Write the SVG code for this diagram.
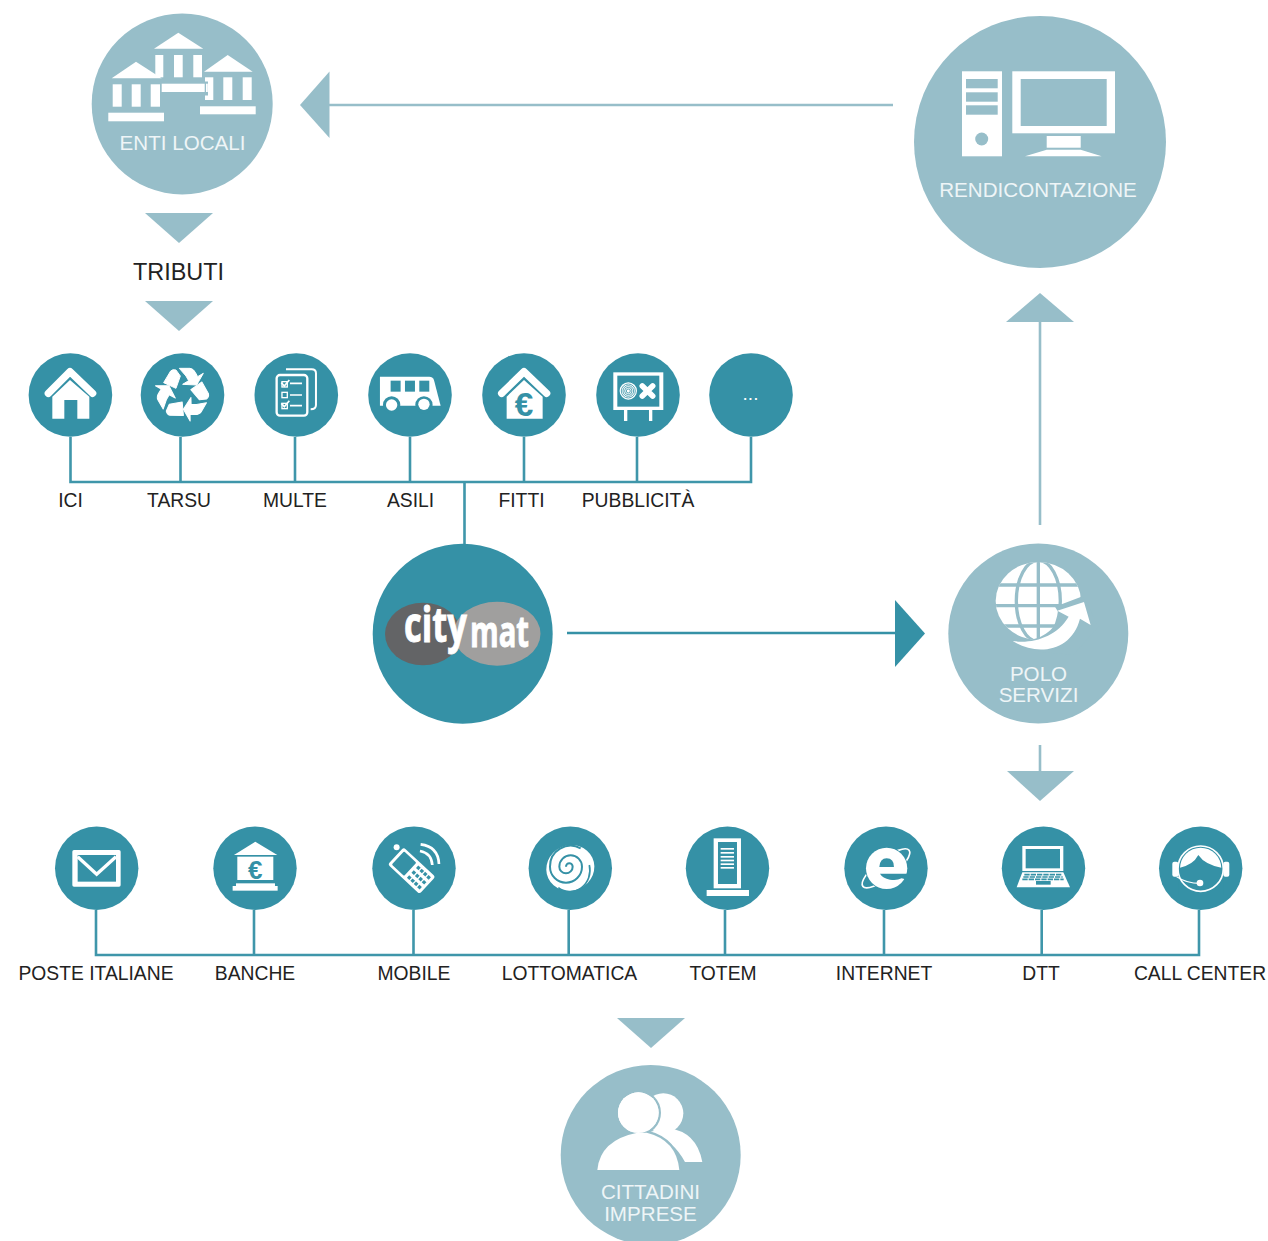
<svg xmlns="http://www.w3.org/2000/svg" width="1268" height="1241" viewBox="0 0 1268 1241">
<style>
.d{fill:#3591a6}.l{fill:#97bec9}.w{fill:#fff}
.cd{stroke:#3f96aa;stroke-width:2.6;fill:none}
.cl{stroke:#97bec9;stroke-width:2.6;fill:none}
.cm{stroke:#3591a6;stroke-width:2.6;fill:none}
text{font-family:"Liberation Sans",Arial,sans-serif}
.lb{font-size:19.3px;fill:#222;text-anchor:middle}
.in{font-size:20.6px;fill:#eef5f7;text-anchor:middle}
.sw{fill:none;stroke:#fff}
.sd{fill:none;stroke:#3591a6}
.logo{font-family:"Open Sans",sans-serif;font-weight:700;fill:#fff;stroke:#fff;stroke-width:.9}
</style>
<g id="connectors">
<path class="cd" d="M70.5 437V482H751V437M180.5 437V482M295 437V482M410 437V482M524 437V482M637 437V482M464.5 482V545"/>
<path class="cd" d="M96 910V955H1199V910M254 910V955M413.5 910V955M568.7 910V955M725 910V955M884 910V955M1041.7 910V955"/>
<path class="cl" d="M329 105H893M1040 322V525M1040 745V772"/>
<path class="cm" d="M567 633H896"/>
<polygon class="l" points="300,105 329.5,71.5 329.5,138"/>
<polygon class="l" points="145,213 213,213 179,243"/>
<polygon class="l" points="145,301 213,301 179,331"/>
<polygon class="l" points="1040,293 1006,322 1074,322"/>
<polygon class="d" points="895,600 895,667 925,633.5"/>
<polygon class="l" points="1007,771 1074,771 1040,801"/>
<polygon class="l" points="617,1018 685,1018 651,1048"/>
</g>
<g id="enti-locali">
<circle class="l" cx="182.2" cy="104" r="90.5"/>
<g class="w">
<polygon points="154,48.7 203.3,48.7 178.3,32.7"/>
<rect x="155.3" y="55" width="8" height="22.3"/><rect x="174" y="55" width="8.7" height="22.3"/><rect x="193.3" y="55" width="8.7" height="22.3"/>
<polygon points="111.7,78.3 161.7,78.3 136,61.7"/>
<rect x="112.7" y="84.3" width="9" height="22.4"/><rect x="131.7" y="84.3" width="9" height="22.4"/><rect x="150.7" y="84.3" width="9.3" height="22.4"/>
<rect x="108.3" y="112.7" width="55.7" height="8.6"/>
<polygon points="204,71.7 252.7,71.7 227.7,55"/>
<rect x="205" y="77.3" width="8.3" height="22.7"/><rect x="223.3" y="77.3" width="9" height="22.7"/><rect x="242.7" y="77.3" width="9" height="22.7"/>
<rect x="200" y="106.3" width="55.7" height="8"/>
</g>
<rect class="l" x="204" y="81.5" width="4" height="14"/>
<rect class="w" x="161.7" y="83.7" width="43" height="8.3"/>
<rect class="w" x="206" y="83.7" width="1.8" height="8.3"/>
<text class="in" x="182.5" y="150">ENTI LOCALI</text>
</g>
<text id="tributi" x="178.5" y="280" font-size="23.4" fill="#222" text-anchor="middle">TRIBUTI</text>
<g id="rendicontazione">
<circle class="l" cx="1040" cy="142" r="126"/>
<rect class="w" x="962" y="71.3" width="40" height="85"/>
<g class="l"><rect x="966" y="79" width="31.7" height="9.3"/><rect x="966" y="92.3" width="31.7" height="9.4"/><rect x="966" y="105.3" width="31.7" height="9.4"/><circle cx="981.7" cy="139" r="6.5"/></g>
<rect class="w" x="1012.3" y="71.3" width="102.7" height="62"/>
<rect class="l" x="1020.7" y="79" width="86" height="47"/>
<rect class="w" x="1046.7" y="136" width="34" height="11.7"/>
<polygon class="w" points="1046.7,149.7 1080.7,149.7 1101.7,156.3 1025,156.3"/>
<text class="in" x="1038" y="197">RENDICONTAZIONE</text>
</g>
<g id="ici">
<circle class="d" cx="70.4" cy="395" r="41.8"/>
<g transform="translate(0,340) scale(.3333)">
<polyline class="sw" points="145,160 210,95 278,160" stroke-width="22" stroke-linecap="round" stroke-linejoin="round"/>
<polygon class="w" points="157,170 210,120 268,170 268,236 232,236 232,180 193,180 193,236 157,236"/>
</g>
<text class="lb" x="70.5" y="507">ICI</text>
</g>
<g id="tarsu">
<circle class="d" cx="182.5" cy="395" r="41.8"/>
<g transform="translate(0,340) scale(.3333)">
<defs><g id="rc" stroke="#fff" stroke-width="3" stroke-linejoin="round">
<path d="M491 128L512 93Q518 87 528 90L541 108L528 145Z"/>
<path d="M538 85H570Q580 86 586 97L593 110L610 100L590 135L548 133L566 122L558 108Z"/>
</g></defs>
<use href="#rc" class="w"/>
<use href="#rc" class="w" transform="rotate(120 549 160)"/>
<use href="#rc" class="w" transform="rotate(240 549 160)"/>
</g>
<text class="lb" x="179" y="507">TARSU</text>
</g>
<g id="multe">
<circle class="d" cx="296.3" cy="395" r="41.8"/>
<g transform="translate(0,340) scale(.3333)">
<path class="sw" stroke-width="6" d="M858 88H935Q948 88 948 100V195Q948 208 932 208"/>
<rect class="sw" stroke-width="7" x="830" y="105" width="92" height="122" rx="10"/>
<g class="sw" stroke-width="4"><rect x="846" y="125" width="16" height="16"/><rect x="846" y="157" width="16" height="16"/><rect x="846" y="190" width="16" height="16"/></g>
<path class="sw" stroke-width="5" d="M870 130H906M870 165H906M870 197H906M844 128L853 138L868 120M844 190L853 200L868 182"/>
</g>
<text class="lb" x="295" y="507">MULTE</text>
</g>
<g id="asili">
<circle class="d" cx="410" cy="395" r="41.8"/>
<g transform="translate(0,340) scale(.3333)">
<path class="w" d="M1140 110H1288Q1298 110 1302 120L1322 197H1140Z"/>
<g class="d"><rect x="1172" y="122" width="30" height="33"/><rect x="1215" y="122" width="30" height="33"/><rect x="1258" y="122" width="30" height="33"/><circle cx="1175" cy="195" r="26"/><circle cx="1272" cy="195" r="26"/></g>
<circle class="w" cx="1175" cy="195" r="17"/><circle class="w" cx="1272" cy="193" r="17"/>
</g>
<text class="lb" x="410.5" y="507">ASILI</text>
</g>
<g id="fitti">
<circle class="d" cx="524" cy="395" r="41.8"/>
<g transform="translate(400,340) scale(.3333)">
<polyline class="sw" points="305,160 372,95 440,160" stroke-width="22" stroke-linecap="round" stroke-linejoin="round"/>
<polygon class="w" points="320,170 372,120 428,170 428,236 320,236"/>
<text x="372" y="227" font-size="100" font-weight="bold" text-anchor="middle" class="d">€</text>
</g>
<text class="lb" x="521.5" y="507">FITTI</text>
</g>
<g id="pubblicita">
<circle class="d" cx="638" cy="395" r="41.8"/>
<g transform="translate(400,340) scale(.3333)">
<rect class="w" x="640" y="97" width="150" height="113"/>
<rect class="d" x="652" y="107" width="126" height="93"/>
<rect class="w" x="672" y="210" width="10" height="33"/><rect class="w" x="747" y="210" width="10" height="33"/>
<circle class="w" cx="685" cy="153" r="26"/>
<g class="sd" stroke-width="2.4"><circle cx="685" cy="153" r="21"/><circle cx="685" cy="153" r="16"/><circle cx="685" cy="153" r="11"/><circle cx="685" cy="153" r="6"/></g>
<path class="sw" stroke-width="17" stroke-linecap="round" d="M727 138L758 168M758 138L727 168"/>
</g>
<text class="lb" x="638" y="507">PUBBLICITÀ</text>
</g>
<g id="altri">
<circle class="d" cx="751" cy="395" r="41.8"/>
<text x="750.5" y="400" font-size="19" fill="#fff" text-anchor="middle">...</text>
</g>
<g id="citymat">
<circle class="d" cx="462.7" cy="633.7" r="90"/>
<ellipse cx="423" cy="634" rx="38" ry="31.3" fill="#636466"/>
<ellipse cx="497" cy="633.7" rx="43.5" ry="32" fill="#a09f9e"/>
<text class="logo" font-size="48" transform="translate(404,642) scale(.72,1)">city</text>
<text class="logo" font-size="43" transform="translate(470,647) scale(.68,1)">mat</text>
</g>
<g id="polo-servizi">
<circle class="l" cx="1038.3" cy="633.5" r="90"/>
<g transform="translate(940,540) scale(.3333)">
<clipPath id="gl"><ellipse cx="295" cy="183" rx="128" ry="117"/></clipPath>
<g clip-path="url(#gl)">
<rect class="w" x="160" y="60" width="270" height="250"/>
<g fill="none" stroke="#97bec9" stroke-width="10">
<path d="M150 135H440M150 197H440M150 258H440M295 50V310"/>
<ellipse cx="295" cy="183" rx="66" ry="122"/>
</g>
</g>
<path class="l" d="M345 200L430 168L475 260L400 345L300 335L218 300C290 310 340 280 360 225Z"/>
<path class="w" d="M218 303C280 312 350 290 386 230L352 212L432 186L452 255L420 236C395 335 290 350 218 303Z"/>
</g>
<text class="in" x="1038.5" y="680.5">POLO</text>
<text class="in" x="1038.5" y="702">SERVIZI</text>
</g>
<g id="poste">
<circle class="d" cx="96.7" cy="868.3" r="41.7"/>
<g transform="translate(30,815) scale(.3333)">
<rect class="w" x="127" y="105" width="145" height="110" rx="5"/>
<rect class="d" x="143" y="120" width="115" height="80"/>
<polyline class="sw" points="143,125 200,178 258,125" stroke-width="10"/>
</g>
<text class="lb" x="96" y="979.5">POSTE ITALIANE</text>
</g>
<g id="banche">
<circle class="d" cx="255" cy="868.3" r="41.7"/>
<g transform="translate(30,815) scale(.3333)">
<polygon class="w" points="612,120 676,80 742,120"/>
<rect class="w" x="622" y="125" width="108" height="70"/>
<rect class="w" x="618" y="205" width="117" height="8"/><rect class="w" x="608" y="213" width="135" height="14"/>
<text x="676" y="191" font-size="78" font-weight="bold" text-anchor="middle" class="d">€</text>
</g>
<text class="lb" x="255" y="979.5">BANCHE</text>
</g>
<g id="mobile">
<circle class="d" cx="414" cy="868.3" r="41.7"/>
<g transform="translate(30,815) scale(.3333)">
<circle class="w" cx="1100" cy="97" r="9"/>
<g transform="translate(1145,167) rotate(43)">
<rect class="w" x="-65" y="-35" width="130" height="70" rx="8"/>
<rect class="d" x="-56" y="-27" width="50" height="54" rx="3"/>
<g class="d">
<rect x="4" y="-25" width="10" height="10"/><rect x="18" y="-25" width="10" height="10"/><rect x="32" y="-25" width="10" height="10"/><rect x="46" y="-25" width="10" height="10"/>
<rect x="4" y="-5" width="10" height="10"/><rect x="18" y="-5" width="10" height="10"/><rect x="32" y="-5" width="10" height="10"/><rect x="46" y="-5" width="10" height="10"/>
<rect x="4" y="15" width="10" height="10"/><rect x="18" y="15" width="10" height="10"/><rect x="32" y="15" width="10" height="10"/><rect x="46" y="15" width="10" height="10"/>
</g>
</g>
<path class="sw" stroke-width="8" d="M1170 108Q1205 115 1207 150M1172 88Q1225 95 1227 147"/>
</g>
<text class="lb" x="414" y="979.5">MOBILE</text>
</g>
<g id="lottomatica">
<circle class="d" cx="570.3" cy="868.3" r="41.7"/>
<g transform="translate(510,815) scale(.3333)">
<ellipse class="w" cx="181" cy="159" rx="73" ry="68" transform="rotate(-25 181 159)"/>
<path class="sd" stroke-width="6" d="M168 155A10 10 0 0 1 188 155A20 20 0 0 1 148 155A34 34 0 0 1 216 155A48 48 0 0 1 120 155A62 62 0 0 1 212 100"/>
<path class="sd" stroke-width="5" d="M238 150A60 64 0 0 1 145 218"/>
</g>
<text class="lb" x="569.5" y="979.5">LOTTOMATICA</text>
</g>
<g id="totem">
<circle class="d" cx="727.5" cy="868.3" r="41.7"/>
<g transform="translate(510,815) scale(.3333)">
<rect class="w" x="611" y="70" width="82" height="150"/>
<rect class="d" x="624" y="81" width="57" height="126"/>
<g class="w"><rect x="632" y="99" width="40" height="5"/><rect x="632" y="111" width="40" height="5"/><rect x="632" y="123" width="40" height="5"/><rect x="632" y="134" width="40" height="5"/><rect x="632" y="145" width="40" height="5"/><rect x="632" y="156" width="40" height="5"/></g>
<rect class="w" x="590" y="225" width="127" height="18"/>
</g>
<text class="lb" x="723" y="979.5">TOTEM</text>
</g>
<g id="internet">
<circle class="d" cx="886" cy="868.3" r="41.7"/>
<g transform="translate(510,815) scale(.3333)">
<ellipse class="sw" stroke-width="5" cx="1128" cy="160" rx="88" ry="28" transform="rotate(-38 1128 160)"/>
<circle class="w" cx="1130" cy="160" r="62" stroke="#3591a6" stroke-width="4" paint-order="stroke"/>
<path class="d" d="M1108 156Q1110 130 1130 130Q1152 130 1152 156Z"/>
<path class="d" d="M1110 176H1197V196L1175 190Q1160 198 1140 194Q1118 190 1110 176Z"/>
</g>
<text class="lb" x="884" y="979.5">INTERNET</text>
</g>
<g id="dtt">
<circle class="d" cx="1043.5" cy="868.3" r="41.7"/>
<g transform="translate(990,815) scale(.3333)">
<rect class="w" x="97" y="93" width="123" height="75"/>
<rect class="d" x="107" y="102" width="103" height="58"/>
<polygon class="w" points="97,172 220,172 240,217 80,217"/>
<path class="sd" stroke-width="5" stroke-dasharray="16 3" d="M103 179H215M100 186H218M97 193H221"/>
<rect class="d" x="138" y="198" width="44" height="11"/>
</g>
<text class="lb" x="1041" y="979.5">DTT</text>
</g>
<g id="call-center">
<circle class="d" cx="1200.7" cy="868.3" r="41.7"/>
<g transform="translate(990,815) scale(.3333)">
<circle class="w" cx="632" cy="160" r="62"/>
<path class="d" d="M565 160Q610 150 625 120Q645 150 700 160V240H565Z"/>
<circle class="sw" stroke-width="5" cx="632" cy="161" r="68"/>
<rect class="w" x="547" y="140" width="18" height="45" rx="6"/>
<rect class="w" x="700" y="140" width="18" height="45" rx="6"/>
<path class="sw" stroke-width="3.5" d="M560 185Q590 205 630 205"/>
<circle class="w" cx="630" cy="204" r="10"/>
</g>
<text class="lb" x="1200" y="979.5">CALL CENTER</text>
</g>
<g id="cittadini-imprese">
<circle class="l" cx="650.7" cy="1155" r="90"/>
<g transform="translate(550,1060) scale(.3333)">
<circle class="w" cx="340" cy="160" r="60"/>
<path class="w" d="M355 205Q440 215 457 306H405Q370 240 300 215Z"/>
<circle class="w" cx="265" cy="158" r="61" stroke="#97bec9" stroke-width="14" paint-order="stroke"/>
<path class="w" d="M142 330Q150 240 262 218H290Q380 240 388 330Z" stroke="#97bec9" stroke-width="14" paint-order="stroke"/>
<circle class="w" cx="265" cy="158" r="61"/>
</g>
<text class="in" x="650.5" y="1199">CITTADINI</text>
<text class="in" x="650.5" y="1220.5">IMPRESE</text>
</g>
</svg>
